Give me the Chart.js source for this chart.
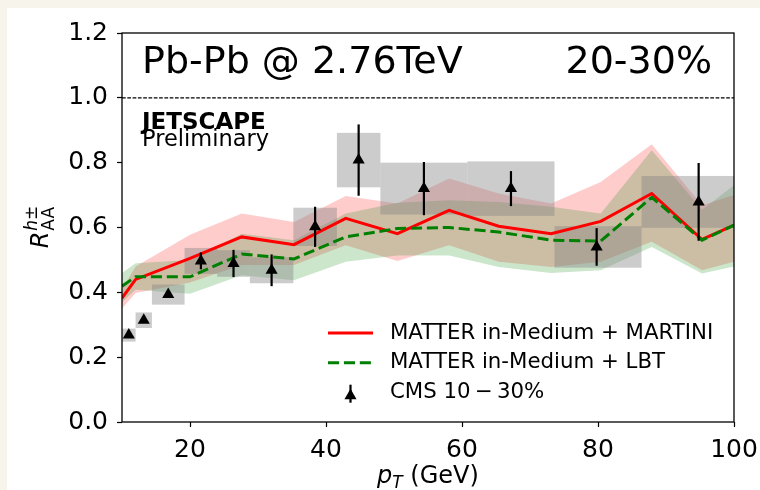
<!DOCTYPE html>
<html>
<head>
<meta charset="utf-8">
<title>R_AA 20-30%</title>
<script src="https://cdn.jsdelivr.net/npm/chart.js@4.4.1/dist/chart.umd.min.js"></script>
<style>
  html, body { margin: 0; padding: 0; }
  body { width: 760px; height: 490px; overflow: hidden; position: relative; background: #f7f4ec; }
  .card { position: absolute; left: 7px; top: 8px; right: 0; bottom: 0; background: #fff; }
  #wrap { position: absolute; left: 0; top: 0; width: 760px; height: 490px; }
</style>
</head>
<body>
<div class="card"></div>
<div id="wrap"><canvas id="raa" width="760" height="490"></canvas></div>
<script>
// model pT grid (GeV) and the two JETSCAPE curves with their bands
const modelPt    = [10, 12, 20, 27.6, 35.3, 42.9, 50.5, 58.1, 65.4, 73.1, 80.4, 87.9, 95.3, 100];
const martini    = [0.382, 0.440, 0.505, 0.571, 0.547, 0.628, 0.581, 0.653, 0.604, 0.581, 0.619, 0.705, 0.563, 0.607];
const martiniHi  = [0.410, 0.480, 0.578, 0.643, 0.617, 0.697, 0.674, 0.751, 0.705, 0.674, 0.740, 0.857, 0.669, 0.700];
const martiniLo  = [0.350, 0.398, 0.430, 0.484, 0.484, 0.545, 0.497, 0.545, 0.494, 0.478, 0.494, 0.556, 0.468, 0.494];
const lbt        = [0.419, 0.448, 0.448, 0.518, 0.503, 0.571, 0.597, 0.600, 0.586, 0.561, 0.558, 0.693, 0.561, 0.607];
const lbtHi      = [0.460, 0.490, 0.500, 0.581, 0.561, 0.643, 0.676, 0.684, 0.679, 0.664, 0.643, 0.838, 0.655, 0.730];
const lbtLo      = [0.370, 0.408, 0.396, 0.453, 0.437, 0.494, 0.514, 0.514, 0.478, 0.460, 0.468, 0.540, 0.458, 0.480];

// CMS charged hadrons, 10-30%
const cmsPt   = [11.0, 13.2, 16.8, 21.6, 26.4, 32.0, 38.4, 44.8, 54.4, 67.2, 79.8, 94.8];
const cmsRaa  = [0.268, 0.314, 0.393, 0.497, 0.489, 0.468, 0.602, 0.808, 0.720, 0.720, 0.540, 0.679];
const cmsStat = [0.004, 0.004, 0.005, 0.026, 0.042, 0.049, 0.062, 0.110, 0.082, 0.054, 0.058, 0.120];
const cmsSys  = [0.020, 0.024, 0.031, 0.040, 0.041, 0.040, 0.059, 0.084, 0.080, 0.084, 0.064, 0.080];
const cmsLo   = [9.6, 12.0, 14.4, 19.2, 24.0, 28.8, 35.2, 41.6, 48.0, 60.8, 73.6, 86.4];
const cmsHi   = [12.0, 14.4, 19.2, 24.0, 28.8, 35.2, 41.6, 48.0, 60.8, 73.6, 86.4, 103.6];

const xTicks = [20, 40, 60, 80, 100];
const yTicks = [0, 0.2, 0.4, 0.6, 0.8, 1.0, 1.2];
const unity = [[10, 1.0], [100, 1.0]];

const FONT = '"DejaVu Sans", sans-serif';
const RED = '#ff0000', GREEN = '#008000';
const MARK_R = 7;

function pts(xs, ys){ return xs.map((x, i) => ({x: x, y: ys[i]})); }

// grey systematic boxes + vertical stat bars for the CMS points
const cmsPlugin = {
  id: 'cmsErrors',
  beforeDatasetDraw(chart, args){
    const ctx = chart.ctx, xs = chart.scales.x, ys = chart.scales.y, a = chart.chartArea;
    if(args.index === 2){
      ctx.save();
      ctx.beginPath(); ctx.rect(a.left, a.top, a.right - a.left, a.bottom - a.top); ctx.clip();
      ctx.fillStyle = 'rgba(128,128,128,0.4)';
      cmsPt.forEach((p, i) => {
        const x0 = xs.getPixelForValue(cmsLo[i]), x1 = xs.getPixelForValue(cmsHi[i]);
        const y0 = ys.getPixelForValue(cmsRaa[i] + cmsSys[i]), y1 = ys.getPixelForValue(cmsRaa[i] - cmsSys[i]);
        ctx.fillRect(x0, y0, x1 - x0, y1 - y0);
      });
      ctx.restore();
    }
    if(args.index === 0){
      ctx.save();
      ctx.strokeStyle = '#000'; ctx.lineWidth = 2.2;
      cmsPt.forEach((p, i) => {
        const x = xs.getPixelForValue(p);
        ctx.beginPath();
        ctx.moveTo(x, ys.getPixelForValue(cmsRaa[i] - cmsStat[i]));
        ctx.lineTo(x, ys.getPixelForValue(cmsRaa[i] + cmsStat[i]));
        ctx.stroke();
      });
      ctx.restore();
    }
  }
};

function triangle(ctx, x, y, r){
  ctx.beginPath();
  ctx.moveTo(x, y - r);
  ctx.lineTo(x + r * 0.866, y + r / 2);
  ctx.lineTo(x - r * 0.866, y + r / 2);
  ctx.closePath();
  ctx.fill();
}

// frame, annotations, axis titles and the in-plot legend
const decorPlugin = {
  id: 'decor',
  afterDraw(chart){
    const ctx = chart.ctx, a = chart.chartArea;
    const ds = chart.data.datasets;
    ctx.save();
    ctx.strokeStyle = '#000'; ctx.lineWidth = 1.3;
    ctx.strokeRect(a.left, a.top, a.right - a.left, a.bottom - a.top);

    ctx.fillStyle = '#000';
    ctx.textBaseline = 'alphabetic';
    ctx.font = '38px ' + FONT;
    ctx.textAlign = 'left';
    ctx.fillText('Pb-Pb @ 2.76TeV', a.left + 20, a.top + 40);
    ctx.textAlign = 'right';
    ctx.fillText('20-30%', a.right - 22, a.top + 40);

    ctx.textAlign = 'left';
    ctx.font = 'bold 23px ' + FONT;
    ctx.fillText('JETSCAPE', a.left + 20, a.top + 96);
    ctx.font = '22.5px ' + FONT;
    ctx.fillText('Preliminary', a.left + 20, a.top + 112.5);

    // x title: p_T (GeV)
    const cx = (a.left + a.right) / 2, by = 483;
    ctx.font = 'italic 24px ' + FONT;
    const wp = ctx.measureText('p').width;
    ctx.font = 'italic 17px ' + FONT;
    const wt = ctx.measureText('T').width;
    ctx.font = '24px ' + FONT;
    const wg = ctx.measureText(' (GeV)').width;
    let x = cx - (wp + wt + wg) / 2;
    ctx.font = 'italic 24px ' + FONT; ctx.fillText('p', x, by); x += wp;
    ctx.font = 'italic 17px ' + FONT; ctx.fillText('T', x, by + 5); x += wt;
    ctx.font = '24px ' + FONT; ctx.fillText(' (GeV)', x, by);

    // y title: R_AA^{h±}
    ctx.save();
    ctx.font = 'italic 24px ' + FONT;
    const wr = ctx.measureText('R').width;
    ctx.font = '17px ' + FONT;
    const wa = ctx.measureText('AA').width;
    ctx.font = 'italic 17px ' + FONT;
    const wh = ctx.measureText('h±').width;
    const total = wr + Math.max(wa, wh);
    ctx.translate(48, (a.top + a.bottom) / 2 + total / 2);
    ctx.rotate(-Math.PI / 2);
    ctx.font = 'italic 24px ' + FONT; ctx.fillText('R', 0, 0);
    ctx.font = '17px ' + FONT; ctx.fillText('AA', wr + 1, 6);
    ctx.font = 'italic 17px ' + FONT; ctx.fillText('h±', wr + 1, -11);
    ctx.restore();

    // legend
    const hx0 = a.left + 206, hx1 = hx0 + 45, tx = hx1 + 17;
    const rows = [a.bottom - 89, a.bottom - 59.3, a.bottom - 29.3];
    ctx.lineWidth = 3;
    ctx.strokeStyle = RED;
    ctx.beginPath(); ctx.moveTo(hx0, rows[0]); ctx.lineTo(hx1, rows[0]); ctx.stroke();
    ctx.strokeStyle = GREEN; ctx.setLineDash([11.1, 4.8]);
    ctx.beginPath(); ctx.moveTo(hx0, rows[1]); ctx.lineTo(hx1, rows[1]); ctx.stroke();
    ctx.setLineDash([]);
    const mx = (hx0 + hx1) / 2;
    ctx.strokeStyle = '#000'; ctx.lineWidth = 2.2;
    ctx.beginPath(); ctx.moveTo(mx, rows[2] - 8); ctx.lineTo(mx, rows[2] + 10); ctx.stroke();
    ctx.fillStyle = '#000';
    triangle(ctx, mx, rows[2] + 3, MARK_R);

    ctx.font = '21.3px ' + FONT;
    ctx.textBaseline = 'middle';
    ctx.textAlign = 'left';
    ctx.fillText(ds[2].label, tx, rows[0]);
    ctx.fillText(ds[1].label, tx, rows[1]);
    ctx.fillText(ds[0].label, tx, rows[2]);
    ctx.restore();
  }
};

const tickFont = {family: FONT, size: 25};

new Chart(document.getElementById('raa'), {
  type: 'line',
  data: {
    datasets: [
      { label: 'CMS 10\u2009\u2212\u200930%', data: pts(cmsPt, cmsRaa), showLine: false,
        pointStyle: 'triangle', pointRadius: MARK_R, pointBackgroundColor: '#000', pointBorderWidth: 0,
        order: 0, clip: 0 },
      { label: 'MATTER in-Medium + LBT', data: pts(modelPt, lbt), borderColor: GREEN, borderWidth: 3,
        borderDash: [11.1, 4.8], pointRadius: 0, fill: false, tension: 0, order: 1, clip: 0 },
      { label: 'MATTER in-Medium + MARTINI', data: pts(modelPt, martini), borderColor: RED, borderWidth: 3,
        pointRadius: 0, fill: false, tension: 0, order: 2, clip: 0 },
      { label: 'LBT band', data: pts(modelPt, lbtHi), borderWidth: 0, borderColor: 'rgba(0,0,0,0)',
        backgroundColor: 'rgba(0,128,0,0.2)', pointRadius: 0, fill: 4, tension: 0, order: 3, clip: 0 },
      { label: 'LBT band lo', data: pts(modelPt, lbtLo), borderWidth: 0, borderColor: 'rgba(0,0,0,0)',
        pointRadius: 0, fill: false, tension: 0, order: 4, clip: 0 },
      { label: 'MARTINI band', data: pts(modelPt, martiniHi), borderWidth: 0, borderColor: 'rgba(0,0,0,0)',
        backgroundColor: 'rgba(255,0,0,0.2)', pointRadius: 0, fill: 6, tension: 0, order: 5, clip: 0 },
      { label: 'MARTINI band lo', data: pts(modelPt, martiniLo), borderWidth: 0, borderColor: 'rgba(0,0,0,0)',
        pointRadius: 0, fill: false, tension: 0, order: 6, clip: 0 },
      { label: 'unity', data: unity.map(p => ({x: p[0], y: p[1]})), borderColor: '#000', borderWidth: 1.1,
        borderDash: [3.7, 1.6], pointRadius: 0, fill: false, order: 7, clip: 0 }
    ]
  },
  options: {
    responsive: false,
    animation: false,
    devicePixelRatio: 1,
    layout: { padding: { left: 0, right: 26, top: 33, bottom: 0 } },
    plugins: { legend: { display: false }, tooltip: { enabled: false } },
    scales: {
      x: {
        type: 'linear', min: 10, max: 100,
        afterBuildTicks: s => { s.ticks = xTicks.map(v => ({value: v})); },
        afterFit: s => { s.height = 68; s.paddingLeft = 0; s.paddingRight = 0; },
        grid: { drawOnChartArea: false, drawTicks: true, tickLength: 5, tickColor: '#000', tickWidth: 1.2 },
        border: { display: false },
        ticks: { color: '#000', font: tickFont, padding: 8, maxRotation: 0, autoSkip: false,
                 callback: v => String(v) }
      },
      y: {
        type: 'linear', min: 0, max: 1.2,
        afterBuildTicks: s => { s.ticks = yTicks.map(v => ({value: v})); },
        afterFit: s => { s.width = 122; s.paddingTop = 0; s.paddingBottom = 0; },
        grid: { drawOnChartArea: false, drawTicks: true, tickLength: 5, tickColor: '#000', tickWidth: 1.2 },
        border: { display: false },
        ticks: { color: '#000', font: tickFont, padding: 9, callback: v => v.toFixed(1) }
      }
    }
  },
  plugins: [cmsPlugin, decorPlugin]
});
</script>
</body>
</html>
